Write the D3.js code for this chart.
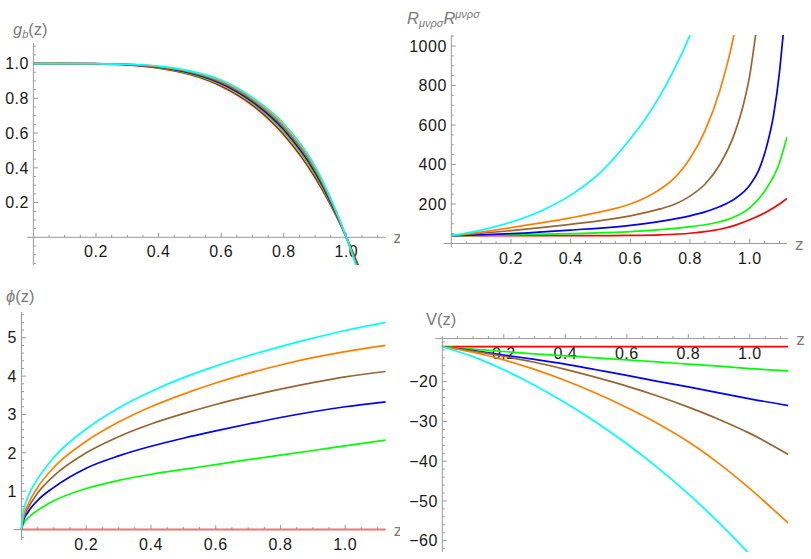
<!DOCTYPE html>
<html>
<head>
<meta charset="utf-8">
<script src="https://cdn.jsdelivr.net/npm/d3@7"></script>
<style>
    body { margin: 0; background: #fff; }
    svg text { font-family: "Liberation Sans", Arial, sans-serif; }
</style>
</head>
<body>
<svg id="chart" width="811" height="559"></svg>
<script>
/////////////////////////////////
// Four Mathematica-style panels: g_b(z), Kretschmann scalar, phi(z), V(z).
//

// Series colours, same order in every panel.
const seriesColors = ["#ff0000", "#00ff00", "#0000ff", "#996633", "#ff8000", "#00ffff"];

// Shared x tick labels.
const zTicks = [0.2, 0.4, 0.6, 0.8, 1.0];

// Panel 1: g_b(z).
const gbZ = [0, 0.1, 0.2, 0.3, 0.4, 0.5, 0.6, 0.7, 0.8, 0.9, 0.95, 1.0, 1.05, 1.1];
const gbRed    = [1, 1, 0.998, 0.992, 0.974, 0.937, 0.870, 0.760, 0.590, 0.344, 0.185, 0, -0.215, -0.46];
const gbGreen  = [1, 1, 0.998, 0.993, 0.977, 0.942, 0.879, 0.771, 0.606, 0.360, 0.195, 0, -0.229, -0.49];
const gbBlue   = [1, 1, 0.999, 0.994, 0.979, 0.946, 0.886, 0.780, 0.619, 0.374, 0.203, 0, -0.240, -0.514];
const gbBrown  = [1, 1, 0.999, 0.995, 0.981, 0.951, 0.893, 0.789, 0.632, 0.387, 0.211, 0, -0.251, -0.538];
const gbOrange = [1, 1, 0.999, 0.995, 0.983, 0.954, 0.898, 0.796, 0.642, 0.397, 0.217, 0, -0.259, -0.556];
const gbCyan   = [1, 1, 0.999, 0.996, 0.985, 0.958, 0.905, 0.805, 0.655, 0.410, 0.225, 0, -0.27, -0.58];
const gbTicks = [0.2, 0.4, 0.6, 0.8, 1.0];

// Panel 2: R_{mnrs} R^{mnrs}.
const krRedZ    = [0, 0.5, 0.6, 0.7, 0.8, 0.85, 0.9, 0.95, 1.0, 1.05, 1.1, 1.125];
const krRed     = [40, 40, 41, 44, 52, 60, 72, 92, 120, 155, 200, 228];
const krGreenZ  = [0, 0.2, 0.4, 0.6, 0.7, 0.8, 0.9, 0.95, 1.0, 1.05, 1.1, 1.125];
const krGreen   = [40, 44, 50, 60, 70, 85, 110, 135, 180, 265, 410, 540];
const krBlueZ   = [0, 0.2, 0.4, 0.6, 0.7, 0.8, 0.85, 0.9, 0.95, 1.0, 1.03, 1.06, 1.08, 1.1, 1.112, 1.125];
const krBlue    = [40, 50, 68, 92, 112, 140, 160, 187, 226, 295, 370, 510, 650, 870, 1055, 1250];
const krBrownZ  = [0, 0.1, 0.2, 0.3, 0.4, 0.5, 0.6, 0.7, 0.75, 0.8, 0.85, 0.9, 0.95, 0.98, 1.0, 1.02, 1.04];
const krBrown   = [40, 52, 65, 80, 97, 116, 140, 175, 200, 240, 300, 400, 560, 710, 850, 1055, 1250];
const krOrangeZ = [0, 0.1, 0.2, 0.3, 0.4, 0.5, 0.6, 0.65, 0.7, 0.75, 0.8, 0.85, 0.9, 0.947, 0.97];
const krOrange  = [40, 58, 80, 104, 130, 160, 200, 232, 275, 335, 430, 570, 775, 1055, 1250];
const krCyanZ   = [0, 0.1, 0.2, 0.3, 0.4, 0.5, 0.6, 0.65, 0.7, 0.75, 0.8, 0.85];
const krCyan    = [40, 68, 108, 165, 245, 360, 530, 630, 750, 890, 1055, 1250];
const krTicks = [200, 400, 600, 800, 1000];

// Panel 3: phi(z).
const phiZ = [0, 0.005, 0.02, 0.05, 0.1, 0.2, 0.3, 0.4, 0.5, 0.6, 0.7, 0.8, 0.9, 1.0, 1.125];
const phiRed    = [0, 0, 0, 0, 0, 0, 0, 0, 0, 0, 0, 0, 0, 0, 0];
const phiGreen  = [0, 0.13, 0.30, 0.50, 0.75, 1.07, 1.28, 1.44, 1.57, 1.69, 1.82, 1.94, 2.06, 2.18, 2.33];
const phiBlue   = [0, 0.20, 0.45, 0.76, 1.10, 1.60, 1.92, 2.17, 2.38, 2.57, 2.75, 2.92, 3.07, 3.20, 3.33];
const phiBrown  = [0, 0.25, 0.55, 0.95, 1.40, 2.00, 2.42, 2.75, 3.02, 3.26, 3.47, 3.66, 3.83, 3.98, 4.12];
const phiOrange = [0, 0.30, 0.65, 1.10, 1.62, 2.30, 2.80, 3.20, 3.53, 3.82, 4.07, 4.29, 4.48, 4.64, 4.80];
const phiCyan   = [0, 0.42, 0.85, 1.32, 1.88, 2.62, 3.17, 3.60, 3.96, 4.26, 4.53, 4.77, 4.99, 5.19, 5.40];
const phiTicks = [1, 2, 3, 4, 5];

// Panel 4: V(z).
const vZ = [0, 0.1, 0.2, 0.3, 0.4, 0.5, 0.6, 0.7, 0.8, 0.9, 1.0, 1.125];
const vRed    = [-11.2, -11.2, -11.2, -11.2, -11.2, -11.2, -11.2, -11.2, -11.2, -11.2, -11.2, -11.2];
const vGreen  = [-11.2, -11.8, -12.4, -13.0, -13.5, -14.0, -14.5, -15.0, -15.6, -16.1, -16.7, -17.3];
const vBlue   = [-11.2, -12.2, -13.3, -14.4, -15.6, -17.0, -18.4, -19.9, -21.3, -22.8, -24.3, -26.0];
const vBrown  = [-11.2, -12.3, -13.6, -15.1, -16.9, -18.9, -21.1, -23.6, -26.4, -29.5, -33.0, -38.3];
const vOrange = [-11.2, -12.6, -14.5, -16.9, -19.7, -22.9, -26.5, -30.5, -35.1, -40.6, -46.9, -55.6];
const vCyan   = [-11.2, -13.7, -17.0, -20.9, -25.3, -30.2, -35.6, -41.6, -48.2, -55.5, -63.5, -75.0];
const vTicks = [-20, -30, -40, -50, -60];

document.addEventListener("DOMContentLoaded", () => {

    const svg = d3.select("#chart");
    const axisColor = "#9a9a9a";
    const labelColor = "#7a7a7a";
    const tickFont = 16;

    const zip = (xs, ys) => xs.map((x, i) => [x, ys[i]]);
    const range = (a, b, step) => d3.range(Math.round((b - a) / step) + 1).map((i) => +(a + i * step).toFixed(4));

    const panels = [
        {
            id: "p1", left: true,
            x: d3.scaleLinear().domain([0, 1.125]).range([33.4, 385.5]),
            y: d3.scaleLinear().domain([0, 1]).range([237.3, 63.55]),
            yExtent: [43, 265], axisAt: 0, xStart: -0.02,
            yTicks: gbTicks, yFmt: d3.format(".1f"),
            yMinor: range(-0.15, 1.1, 0.05),
            series: [zip(gbZ, gbRed), zip(gbZ, gbGreen), zip(gbZ, gbBlue),
                     zip(gbZ, gbBrown), zip(gbZ, gbOrange), zip(gbZ, gbCyan)]
        },
        {
            id: "p2", left: false,
            x: d3.scaleLinear().domain([0, 1.125]).range([451.3, 787]),
            y: d3.scaleLinear().domain([0, 1000]).range([243.5, 46]),
            yExtent: [35, 247], axisAt: 0, xStart: -0.025,
            yTicks: krTicks, yFmt: d3.format("d"),
            yMinor: range(50, 1050, 50),
            series: [zip(krRedZ, krRed), zip(krGreenZ, krGreen), zip(krBlueZ, krBlue),
                     zip(krBrownZ, krBrown), zip(krOrangeZ, krOrange), zip(krCyanZ, krCyan)]
        },
        {
            id: "p3", left: true,
            x: d3.scaleLinear().domain([0, 1.125]).range([21.5, 385.7]),
            y: d3.scaleLinear().domain([0, 5]).range([529.5, 337.75]),
            yExtent: [312, 540], axisAt: 0, xStart: -0.025,
            yTicks: phiTicks, yFmt: d3.format("d"),
            yMinor: range(-0.2, 5.6, 0.2),
            series: [zip(phiZ, phiRed), zip(phiZ, phiGreen), zip(phiZ, phiBlue),
                     zip(phiZ, phiBrown), zip(phiZ, phiOrange), zip(phiZ, phiCyan)]
        },
        {
            id: "p4", left: false,
            x: d3.scaleLinear().domain([0, 1.125]).range([442.3, 788.3]),
            y: d3.scaleLinear().domain([-60, -20]).range([540.7, 381.7]),
            yExtent: [336, 552], axisAt: -9.15, xStart: -0.023,
            yTicks: vTicks, yFmt: (d) => "\u2212" + Math.abs(d),
            yMinor: range(-62, -10, 2),
            series: [zip(vZ, vRed), zip(vZ, vGreen), zip(vZ, vBlue),
                     zip(vZ, vBrown), zip(vZ, vOrange), zip(vZ, vCyan)]
        }
    ];

    const defs = svg.append("defs");

    panels.forEach((p) => {

        const x = p.x, y = p.y;
        const ay = y(p.axisAt);
        const x0 = x(0);
        const [yTop, yBot] = p.yExtent;

        // Left panels are cut at the centre line, like the source.
        defs.append("clipPath").attr("id", "outer-" + p.id)
            .append("rect").attr("x", p.left ? 0 : 400).attr("y", 0)
            .attr("width", p.left ? 400 : 411).attr("height", 559);
        defs.append("clipPath").attr("id", "plot-" + p.id)
            .append("rect").attr("x", x0 - 8).attr("y", yTop)
            .attr("width", x(1.125) - x0 + 8).attr("height", yBot - yTop);

        const g = svg.append("g").attr("clip-path", `url(#outer-${p.id})`);

        // Axes.
        g.append("line")
            .attr("x1", x(p.xStart)).attr("x2", x(1.125))
            .attr("y1", ay).attr("y2", ay)
            .attr("stroke", axisColor).attr("stroke-width", 1);
        g.append("line")
            .attr("x1", x0).attr("x2", x0)
            .attr("y1", yTop).attr("y2", yBot)
            .attr("stroke", axisColor).attr("stroke-width", 1);

        // x ticks (drawn upward).
        const xMinor = range(0.05, 1.1, 0.05).filter((v) => !zTicks.some((t) => Math.abs(t - v) < 1e-6));
        g.selectAll(".xminor").data(xMinor).enter().append("line")
            .attr("x1", (d) => x(d)).attr("x2", (d) => x(d))
            .attr("y1", ay).attr("y2", ay - 2.5)
            .attr("stroke", axisColor);
        g.selectAll(".xmajor").data(zTicks).enter().append("line")
            .attr("x1", (d) => x(d)).attr("x2", (d) => x(d))
            .attr("y1", ay).attr("y2", ay - 4.5)
            .attr("stroke", axisColor);
        g.selectAll(".xlabel").data(zTicks).enter().append("text")
            .attr("x", (d) => x(d)).attr("y", ay + 20)
            .attr("text-anchor", "middle")
            .attr("font-size", tickFont).attr("letter-spacing", 0.5).attr("fill", "#1a1a1a")
            .text((d) => d3.format(".1f")(d));

        // y ticks (drawn rightward).
        const yMinor = p.yMinor.filter((v) => !p.yTicks.some((t) => Math.abs(t - v) < 1e-6));
        g.selectAll(".yminor").data(yMinor).enter().append("line")
            .attr("x1", x0).attr("x2", x0 + 2.5)
            .attr("y1", (d) => y(d)).attr("y2", (d) => y(d))
            .attr("stroke", axisColor);
        g.selectAll(".ymajor").data(p.yTicks).enter().append("line")
            .attr("x1", x0).attr("x2", x0 + 4.5)
            .attr("y1", (d) => y(d)).attr("y2", (d) => y(d))
            .attr("stroke", axisColor);
        g.selectAll(".ylabel").data(p.yTicks).enter().append("text")
            .attr("x", x0 - 4.5).attr("y", (d) => y(d) + 5.7)
            .attr("text-anchor", "end")
            .attr("font-size", tickFont).attr("letter-spacing", 0.5).attr("fill", "#1a1a1a")
            .text(p.yFmt);

        // Curves.
        const line = d3.line()
            .x((d) => x(d[0]))
            .y((d) => y(d[1]))
            .curve(d3.curveMonotoneX);
        const curves = g.append("g").attr("clip-path", `url(#plot-${p.id})`);
        curves.selectAll("path").data(p.series).enter().append("path")
            .attr("d", line)
            .attr("fill", "none")
            .attr("stroke", (d, i) => (p.id === "p3" && i === 0) ? "#f47272" : seriesColors[i])
            .attr("stroke-width", (d, i) => (p.id === "p3" && i === 0) ? 2.2 : 1.7);

        // "z" axis label.
        g.append("text")
            .attr("x", x(1.125) + 8).attr("y", ay + 6)
            .attr("font-size", 17).attr("fill", labelColor)
            .text("z");
    });

    // Panel titles.
    const t1 = svg.append("text").attr("x", 13).attr("y", 35)
        .attr("font-size", 16.5).attr("fill", labelColor);
    t1.append("tspan").attr("font-style", "italic").text("g");
    t1.append("tspan").attr("font-style", "italic").attr("font-size", 11).attr("dy", 3).text("b");
    t1.append("tspan").attr("dy", -3).text("(z)");

    const t2 = svg.append("text").attr("x", 407).attr("y", 24)
        .attr("font-size", 16.5).attr("fill", labelColor);
    t2.append("tspan").attr("font-style", "italic").text("R");
    t2.append("tspan").attr("font-style", "italic").attr("font-size", 11).attr("dy", 3).text("\u03bc\u03bd\u03c1\u03c3");
    t2.append("tspan").attr("font-style", "italic").attr("dy", -3).text("R");
    t2.append("tspan").attr("font-style", "italic").attr("font-size", 11).attr("dy", -6).text("\u03bc\u03bd\u03c1\u03c3");

    const t3 = svg.append("text").attr("x", 6).attr("y", 302)
        .attr("font-size", 16.5).attr("fill", labelColor);
    t3.append("tspan").attr("font-style", "italic").text("\u03d5");
    t3.append("tspan").text("(z)");

    svg.append("text").attr("x", 426).attr("y", 325)
        .attr("font-size", 16.5).attr("fill", labelColor)
        .text("V(z)");
});
</script>
</body>
</html>
